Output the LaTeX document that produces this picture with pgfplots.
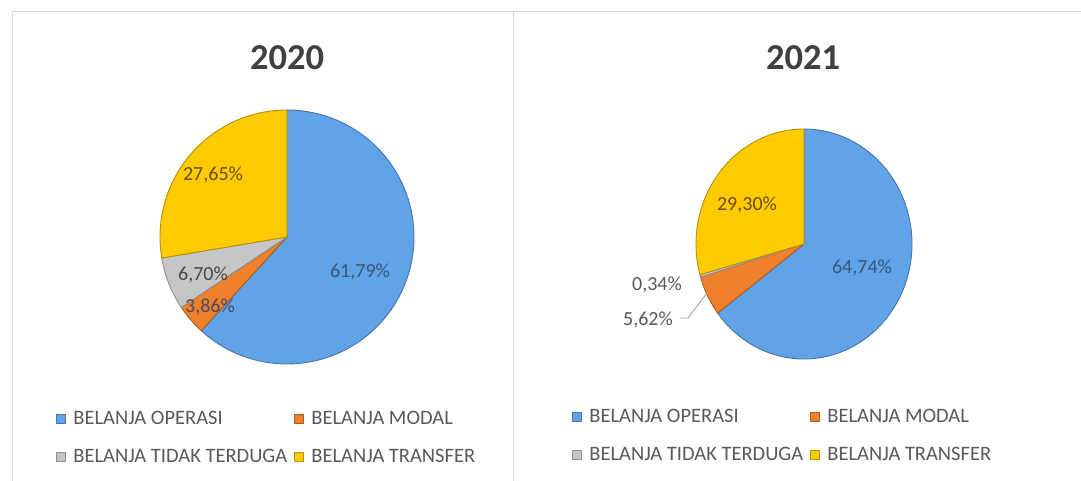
\documentclass[border=0pt]{standalone}
\usepackage{pgfplots}
\pgfplotsset{compat=1.18}
\usepackage{pgfplotstable}
\usepgfplotslibrary{polar}
\usepackage{fontspec}
\setmainfont{Carlito}

\definecolor{opblue}{RGB}{96,163,230}
\definecolor{modorange}{RGB}{240,128,44}
\definecolor{tidgray}{RGB}{198,198,198}
\definecolor{tryellow}{RGB}{255,202,0}
\definecolor{legtext}{RGB}{89,89,89}
\definecolor{frame}{RGB}{217,217,217}

% share of each kind of spending, percent
\pgfplotstableread{
kind value col
operasi 61.79 opblue
modal 3.86 modorange
tidak 6.70 tidgray
transfer 27.65 tryellow
}\pieA
\pgfplotstableread{
kind value col
operasi 64.74 opblue
modal 5.62 modorange
tidak 0.34 tidgray
transfer 29.30 tryellow
}\pieB

% slices clockwise from 12 o'clock, as the table lists them
\newcommand{\pieslices}[1]{%
  \pgfplotstablegetrowsof{#1}%
  \pgfmathtruncatemacro{\lastrow}{\pgfplotsretval-1}%
  \def\angstart{90}%
  \pgfplotsforeachungrouped \i in {0,...,\lastrow}{%
    \pgfplotstablegetelem{\i}{value}\of{#1}%
    \pgfmathsetmacro{\angend}{\angstart-3.6*\pgfplotsretval}%
    \pgfplotstablegetelem{\i}{col}\of{#1}%
    \edef\doslice{\noexpand\addplot[fill=\pgfplotsretval, draw=\pgfplotsretval!72!black,
      line width=0.9bp, line join=round,
      domain=\angend:\angstart, samples=90] {1} -- (axis cs:0,0) -- cycle;}%
    \doslice
    \let\angstart\angend
  }%
}

\pgfplotsset{
  pie/.style={
    hide axis, clip=false, scale only axis,
    xmin=0, xmax=360, ymin=0, ymax=1,
    anchor=origin,
    legend columns=2,
    legend cell align=left,
    legend entries={BELANJA OPERASI, BELANJA MODAL, BELANJA TIDAK TERDUGA, BELANJA TRANSFER},
    legend image code/.code={\fill[##1, line width=0.5bp] (0bp,-4.5bp) rectangle (9bp,4.5bp);
      \path (13.5bp,0bp);},
    legend style={draw=none, fill=none, anchor=north west, row sep=17bp,
      font=\fontsize{20.5bp}{22bp}\selectfont, text=legtext,
      nodes={inner sep=3bp},
      /tikz/every even column/.append style={column sep=4bp}},
  },
}

\begin{document}
\begin{tikzpicture}
\path[use as bounding box, fill=white] (0bp,0bp) rectangle (1081bp,481bp);
\draw[frame, line width=1bp] (12bp,0bp) -- (12bp,469bp) -- (1081bp,469bp);
\draw[frame, line width=1bp] (513bp,469bp) -- (513bp,0bp);

% legend corners, given from each pie's centre
\coordinate (legA) at (-234bp,-169bp);
\coordinate (legB) at (-235bp,-160bp);

\node[text=black!75, font=\bfseries\fontsize{36.5bp}{38bp}\selectfont] at (287bp,423bp) {2020};
\node[text=black!75, font=\bfseries\fontsize{36.5bp}{38bp}\selectfont] at (803bp,423bp) {2021};

\begin{polaraxis}[pie, at={(287bp,244bp)}, width=254bp, height=254bp,
  legend style={at={(legA)}}]
\pieslices{\pieA}
\end{polaraxis}

\begin{polaraxis}[pie, at={(804bp,237bp)}, width=216bp, height=230bp,
  legend style={at={(legB)}}]
\pieslices{\pieB}
\end{polaraxis}

% data labels
\begin{scope}[font=\fontsize{20bp}{22bp}\selectfont]
\node[text={rgb,255:red,55;green,88;blue,125}] at (360bp,209bp) {61,79\%};
\node[text={rgb,255:red,100;green,80;blue,10}] at (213bp,306bp) {27,65\%};
\node[text=black!72] at (203bp,206bp) {6,70\%};
\node[text={rgb,255:red,75;green,75;blue,95}] at (210bp,174bp) {3,86\%};
\node[text={rgb,255:red,55;green,88;blue,125}] at (862bp,213bp) {64,74\%};
\node[text={rgb,255:red,100;green,80;blue,10}] at (747bp,276bp) {29,30\%};
\node[text=legtext] at (657bp,196bp) {0,34\%};
\node[text=legtext] at (648bp,161bp) {5,62\%};
\end{scope}
\draw[black!40, line width=0.8bp] (680bp,163bp) -- (688bp,163bp) -- (707bp,188bp);
\end{tikzpicture}
\end{document}
